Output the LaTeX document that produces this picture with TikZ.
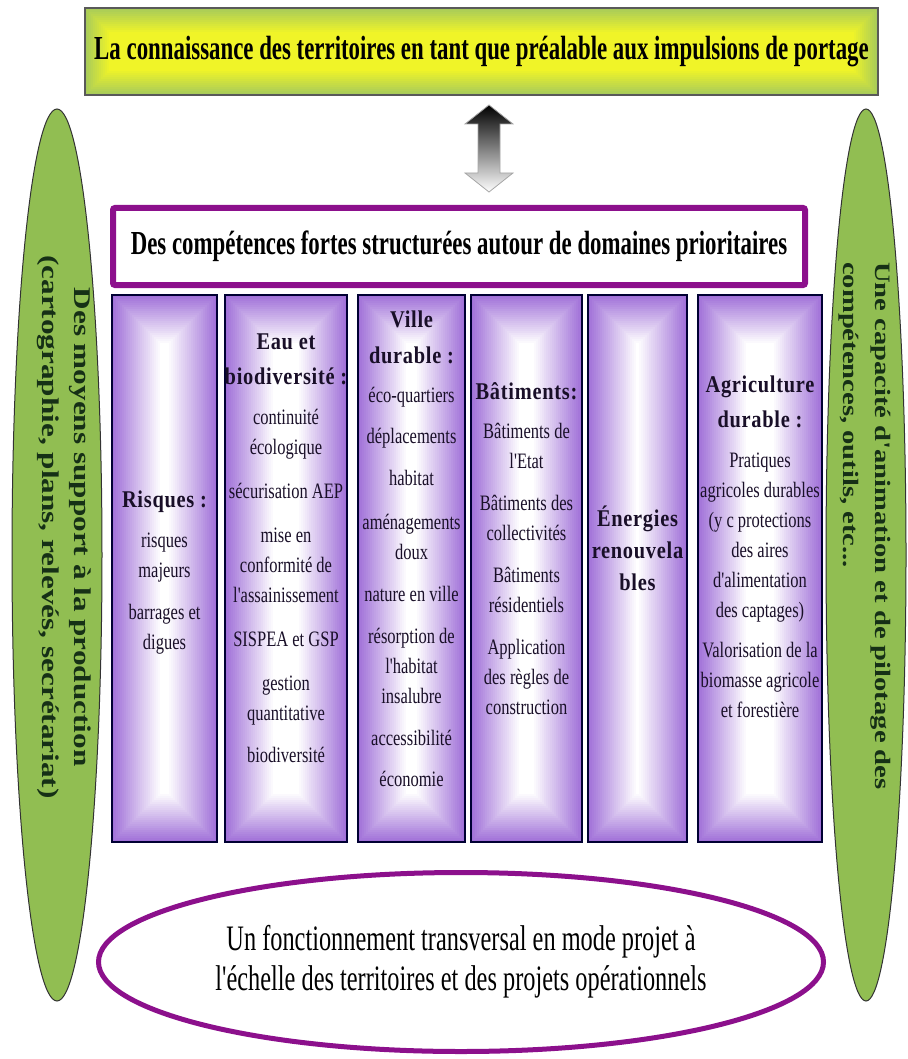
\documentclass[tikz,border=0pt]{standalone}
\usepackage{fontspec}
\setmainfont{Liberation Serif}
\newfontfamily\condfont[FakeStretch=0.75]{Liberation Serif}
\newfontfamily\narrowfont[FakeStretch=0.68]{Liberation Serif}
\newfontfamily\headfont[FakeStretch=0.85,LetterSpace=3]{Liberation Serif}
\newfontfamily\tallfont[FakeStretch=1.3]{Liberation Serif}
\usetikzlibrary{positioning,calc,shapes.geometric}

\definecolor{bandgreen}{RGB}{168,203,90}
\definecolor{bandyellow}{RGB}{240,244,40}
\definecolor{colpurple}{RGB}{160,112,216}
\definecolor{framepurple}{RGB}{140,16,140}
\definecolor{sidegreen}{RGB}{145,190,82}
\definecolor{sidetext}{RGB}{22,48,22}
\definecolor{coltext}{RGB}{25,15,40}

\newcommand{\hd}[1]{{\headfont\bfseries\fontsize{24}{30}\selectfont #1}}

\tikzset{
  gradbox/.style n args={4}{path picture={
    \foreach \i [evaluate=\i as \p using int(100-100*\i/#3)] in {0,...,#3}
      \fill[#1!\p!#2] ($(path picture bounding box.south west)+(\i*#4,\i*#4)$)
        rectangle ($(path picture bounding box.north east)-(\i*#4,\i*#4)$);
  }},
}

\begin{document}
\begin{tikzpicture}[x=1pt, y=-1pt,
  band/.style = {draw=black!65, line width=2pt, gradbox={bandgreen}{bandyellow}{12}{2pt},
    minimum width=793pt, minimum height=87pt, inner sep=0,
    font=\narrowfont\bfseries\fontsize{33.6}{36}\selectfont},
  corebox/.style = {draw=framepurple, line width=6pt, rounded corners=2pt, fill=white,
    minimum width=692pt, minimum height=77pt, inner sep=0,
    font=\narrowfont\bfseries\fontsize{33.6}{36}\selectfont},
  colbox/.style = {draw=black!80!blue, line width=1.2pt, minimum height=547pt, inner sep=0,
    outer sep=0, gradbox={colpurple}{white}{24}{2pt}},
  coltxt/.style = {align=center, inner sep=0, text=coltext,
    font=\condfont\fontsize{22}{30}\selectfont},
  sideoval/.style = {ellipse, fill=sidegreen, draw=black!80, line width=1pt,
    minimum height=892pt, inner sep=0},
  sidetxt/.style = {rotate=-90, inner sep=0, text=sidetext,
    font=\tallfont\bfseries\fontsize{#1}{32}\selectfont}]
\useasboundingbox (0,0) rectangle (907,1059);

% knowledge of the territories
\node[band] (know) at (481.5,51.5) {La connaissance des territoires en tant que préalable aux impulsions de portage};

% two-way arrow
\coordinate (link) at (489,148.5);
\shade[top color=black, bottom color=white, draw=gray!70, line width=0.8pt]
  ($(link)+(0,-43.5)$) -- ++(24,19) -- ++(-13,0) -- ++(0,49) -- ++(13,0) -- ++(-24,19)
  -- ++(-24,-19) -- ++(13,0) -- ++(0,-49) -- ++(-13,0) -- cycle;

% core skills
\node[corebox] (core) at (459,246.5) {Des compétences fortes structurées autour de domaines prioritaires};

% priority domains
\node[colbox, minimum width=105pt, anchor=north west] (risques) at (112,295) {};
\node[colbox, minimum width=122pt, right=8pt of risques] (eau) {};
\node[colbox, minimum width=107pt, right=11pt of eau] (ville) {};
\node[colbox, minimum width=111pt, right=6pt of ville] (batiments) {};
\node[colbox, minimum width=99pt, right=6pt of batiments] (energies) {};
\node[colbox, minimum width=124pt, right=11pt of energies] (agri) {};

\node[coltxt] (risquestxt) at ($(risques.center)+(0,4.5)$) {\hd{Risques :}\\[10pt]
  risques\\majeurs\\[12pt]barrages et\\digues};
\node[coltxt] (eautxt) at ($(eau.center)+(0,-20)$) {\hd{Eau et}\\[5pt]\hd{biodiversité :}\\[10pt]
  continuité\\écologique\\[14pt]sécurisation AEP\\[14pt]mise en\\conformité de\\l'assainissement\\[14pt]
  SISPEA et GSP\\[14pt]gestion\\quantitative\\[12pt]biodiversité};
\node[coltxt] (villetxt) at ($(ville.center)+(0,-20)$) {\hd{Ville}\\[6pt]\hd{durable :}\\[9pt]
  éco-quartiers\\[11pt]déplacements\\[12pt]habitat\\[14pt]aménagements\\doux\\[12pt]
  nature en ville\\[12pt]résorption de\\l'habitat\\insalubre\\[12pt]accessibilité\\[11pt]économie};
\node[coltxt] (batimentstxt) at ($(batiments.center)+(0,-20)$) {\hd{Bâtiments:}\\[9pt]
  Bâtiments de\\l'Etat\\[12pt]Bâtiments des\\collectivités\\[12pt]Bâtiments\\résidentiels\\[12pt]
  Application\\des règles de\\construction};
\node[coltxt] (energiestxt) at ($(energies.center)+(0,-20)$) {\hd{Énergies}\\[2pt]\hd{renouvela}\\[2pt]\hd{bles}};
\node[coltxt] (agritxt) at ($(agri.center)+(0,-22)$) {\hd{Agriculture}\\[5pt]\hd{durable :}\\[10pt]
  Pratiques\\agricoles durables\\(y c protections\\des aires\\d'alimentation\\des captages)\\[10pt]
  Valorisation de la\\biomasse agricole\\et forestière};

% side supports
\node[sideoval, minimum width=90pt] (tools) at (57,555) {};
\node[sidetxt=24, align=center] (toolstxt) at (64,527)
  {Des moyens support à la production\\(cartographie, plans, relevés, secrétariat)};
\node[sideoval, minimum width=80pt] (steer) at (866,555) {};
\node[sidetxt=22, align=left, anchor=west] (steertxt) at (865,262)
  {Une capacité d'animation et de pilotage des\\compétences, outils, etc...};

% project mode
\node[ellipse, draw=framepurple, line width=5pt, fill=white, minimum width=725pt, minimum height=179pt,
  align=center, inner sep=0, font=\narrowfont\fontsize{35.8}{40}\selectfont] (projet) at (461,962)
  {Un fonctionnement transversal en mode projet à\\l'échelle des territoires et des projets opérationnels};
\end{tikzpicture}
\end{document}
